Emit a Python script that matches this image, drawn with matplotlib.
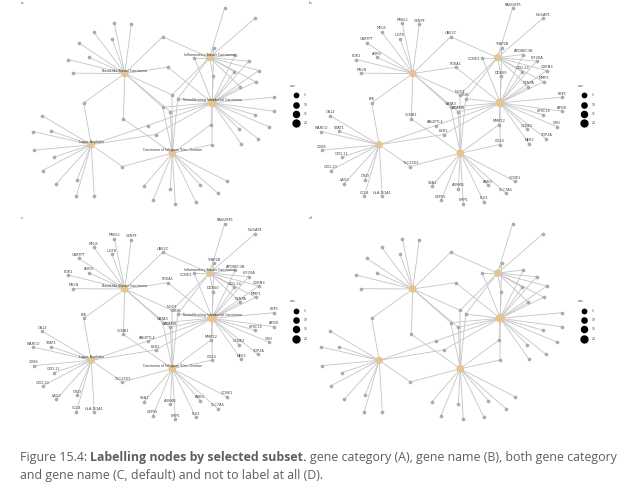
import matplotlib
matplotlib.use('Agg')
import matplotlib.pyplot as plt

# network layout (pixel units inside one panel), same for all four panels
categories = ['Basal-like Breast Carcinoma', 'Inflammatory Breast Carcinoma',
              'Noninfiltrating Intraductal Carcinoma', 'Lupus Nephritis',
              'Carcinoma of Fallopian Tube, Ovarian']
category_x = [124.8, 209.5, 212.2, 91.2, 172.3]
category_y = [73.5, 57.6, 102.8, 144.8, 153.2]

gene_names = ['RASGRP1', 'NUSAP1', 'MYBL1', 'CENPF', 'MELK', 'UGT8', 'CARTPT',
              'AGR3', 'PDK1', 'MSLN', 'UBE2C', 'FOXA1', 'BIK', 'CCNB1',
              'TFAP2B', 'CCND1', 'APOBEC3B', 'KIF20A', 'CDKN3', 'CXCL14',
              'MMP1', 'CENPA', 'DDX60', 'NQO1', 'PGR', 'GATA3', 'ADAM8',
              'FBP1', 'APOD', 'LRRC15', 'CRH', 'CCNE2', 'TOP2A', 'NEK2',
              'ANGPTL4', 'ESR1', 'MMP12', 'CD24', 'CA12', 'MARCO', 'STAT1',
              'CD86', 'CXCL11', 'CXCL10', 'LAG3', 'GNLY', 'CCL8', 'HLA-DQA1',
              'TSC22D3', 'SKA1', 'AURKB', 'CEP55', 'EMP1', 'PLK1', 'AREG',
              'SLC7A5', 'CCNE1']
gene_x = [224.7, 255.3, 114.3, 131.3, 93.7, 112.0, 78.7, 88.7, 68.0, 73.3,
          162.7, 167.7, 83.7, 123.3, 213.7, 194.3, 235.3, 248.7, 258.8, 234.3,
          255.7, 240.3, 213.2, 172.0, 177.7, 162.7, 170.3, 274.3, 274.0, 255.3,
          268.5, 239.3, 257.7, 241.0, 147.7, 155.7, 211.0, 212.1, 42.0, 33.0,
          51.3, 33.7, 53.7, 42.7, 56.3, 77.0, 76.3, 94.3, 122.3, 144.0, 170.3,
          153.0, 175.3, 195.7, 200.3, 217.7, 227.0]
gene_y = [8.0, 18.0, 23.2, 24.2, 31.8, 38.8, 42.8, 57.2, 59.5, 73.2,
          36.8, 67.2, 102.8, 118.8, 47.8, 57.6, 54.5, 61.2, 70.5, 71.8,
          81.7, 86.8, 76.2, 94.8, 98.5, 107.2, 111.8, 97.2, 111.2, 114.8,
          126.5, 129.2, 138.5, 143.7, 125.5, 134.5, 124.5, 144.5, 115.5, 131.5,
          131.2, 150.2, 157.2, 170.5, 183.8, 179.5, 196.2, 196.2, 166.5, 186.2,
          188.5, 200.2, 203.5, 201.5, 185.2, 193.0, 181.2]
gene_links = [[1], [1], [0], [0], [0], [0], [0], [0], [0], [0],
              [0, 1], [0, 2], [0, 3], [0, 4], [1, 2], [1, 2], [1, 2], [1, 2],
              [1, 2], [1, 2], [1, 2], [1, 2], [1, 2], [0, 1, 4], [1, 2, 4],
              [0, 2, 4], [0, 2, 4], [2], [2], [2], [2], [2], [2], [2],
              [2, 3], [2, 3], [2, 4], [2, 4], [3], [3], [3], [3], [3], [3],
              [3], [3], [3], [3], [3, 4], [4], [4], [4], [4], [4], [4], [4],
              [4]]
legend_sizes = [5, 10, 15, 20]

panel_letters = ['a', 'b', 'c', 'd']
label_modes = ['category', 'gene', 'all', 'none']

W, H = 636, 488
PW, PH = 318, 216
offsets = [(0, 0), (288, 0), (0, 215.5), (288, 215.5)]

cat_color = '#E5C494'
gene_color = '#ABABAB'
edge_color = '#C4C4C4'
text_color = '#444444'
# genes whose label sits left of the node instead of above it
left_labels = {'CCND1'}

counts = [sum(i in links for links in gene_links) for i in range(len(categories))]


def node_area(n):
    d = 7.3 + (n - 14) * 0.17  # diameter in px
    return (d * 0.72) ** 2


fig = plt.figure(figsize=(W / 100, H / 100), dpi=100)

for letter, mode, (ox, oy) in zip(panel_letters, label_modes, offsets):
    ax = fig.add_axes([ox / W, 1 - (oy + PH) / H, PW / W, PH / H])
    ax.set_xlim(0, PW)
    ax.set_ylim(PH, 0)
    ax.axis('off')
    ax.patch.set_alpha(0)

    for gx, gy, links in zip(gene_x, gene_y, gene_links):
        for c in links:
            ax.plot([gx, category_x[c]], [gy, category_y[c]], color=edge_color,
                    lw=0.6, zorder=1, clip_on=False, solid_capstyle='round')

    ax.scatter(gene_x, gene_y, s=7, color=gene_color, lw=0, zorder=2,
               clip_on=False)
    ax.scatter(category_x, category_y, s=[node_area(n) for n in counts],
               color=cat_color, lw=0, zorder=3, clip_on=False)

    if mode in ('gene', 'all'):
        for name, gx, gy in zip(gene_names, gene_x, gene_y):
            if name in left_labels:
                ax.text(gx - 2.2, gy + 1.5, name, fontsize=2.6,
                        color=text_color, ha='right', va='center', zorder=4,
                        clip_on=False)
            else:
                ax.text(gx, gy - 3.4, name, fontsize=2.6, color=text_color,
                        ha='center', va='center', zorder=4, clip_on=False)
    if mode in ('category', 'all'):
        for name, cx, cy in zip(categories, category_x, category_y):
            ax.text(cx, cy - 3.0, name, fontsize=2.3, color='#333333',
                    ha='center', va='center', zorder=5, clip_on=False)

    # size legend
    ax.text(293, 86, 'size', fontsize=2.2, color=text_color, ha='center',
            va='center', clip_on=False)
    for k, n in enumerate(legend_sizes):
        ly = 95.3 + k * 9.3
        ax.scatter([295.5], [ly], s=node_area(n), color='black', lw=0,
                   clip_on=False)
        ax.text(303.5, ly, str(n), fontsize=2.2, color=text_color,
                ha='left', va='center', clip_on=False)

    ax.text(22, 2.5, letter, fontsize=3.2, color='#555555', ha='center',
            va='center', clip_on=False)

# caption, built from runs of normal / bold text
cap_color = '#5e5e5e'
cap_font = 'Open Sans'
line1 = [('Figure 15.4:', 'normal'), ('Labelling nodes by selected subset.', 'bold'),
         ('gene category (A), gene name (B), both gene category', 'normal')]
line2 = [('and gene name (C, default) and not to label at all (D).', 'normal')]

renderer = fig.canvas.get_renderer()


def draw_runs(runs, x0, y0, size):
    x = x0
    made = []
    sp = fig.text(0, 0, 'x x', fontsize=size, family=cap_font)
    nsp = fig.text(0, 0, 'xx', fontsize=size, family=cap_font)
    space = (sp.get_window_extent(renderer).width
             - nsp.get_window_extent(renderer).width)
    sp.remove()
    nsp.remove()
    for s, weight in runs:
        t = fig.text(x / W, 1 - y0 / H, s, fontsize=size, family=cap_font,
                     weight=weight, color=cap_color, ha='left', va='baseline')
        made.append(t)
        x += t.get_window_extent(renderer).width + space
    return made, x - space - x0


tmp, width = draw_runs(line1, 20, 460.5, 10)
for t in tmp:
    t.remove()
cap_size = 10 * 596 / width
draw_runs(line1, 20, 460.5, cap_size)
draw_runs(line2, 20, 479.5, cap_size)

fig.savefig('out.png', dpi=100, facecolor='white')
